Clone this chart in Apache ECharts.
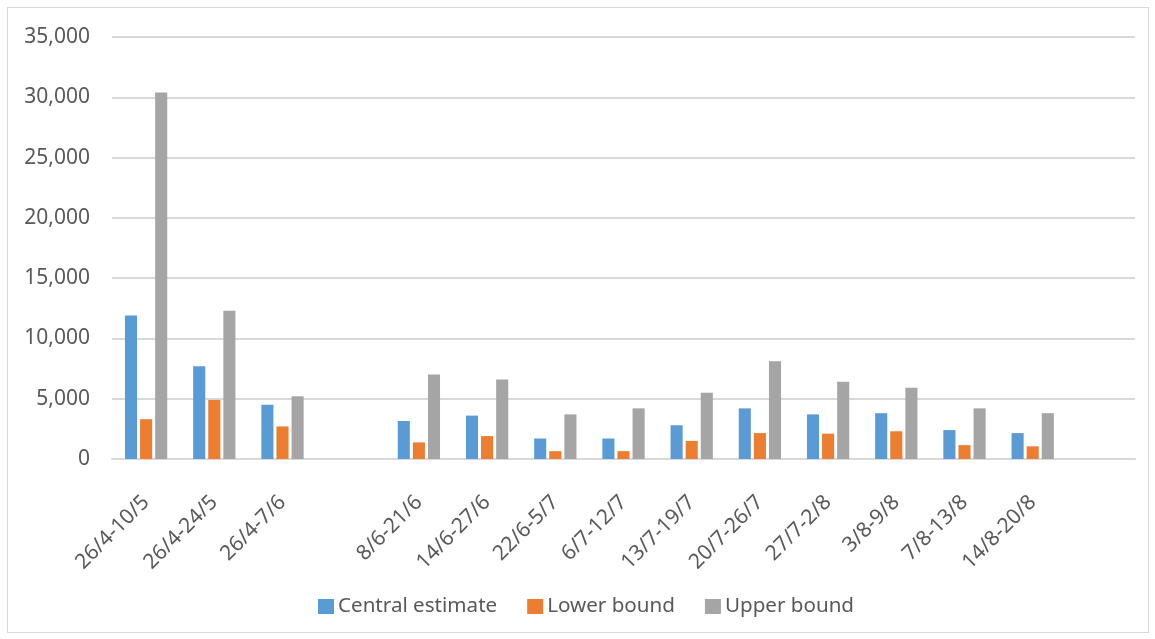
<!DOCTYPE html>
<html lang="en">

<head>
    <meta charset="UTF-8" />
    <title>Estimates by period</title>
    <script src="https://cdn.jsdelivr.net/npm/echarts@6/dist/echarts.min.js"></script>
    <style>
        * {
            margin: 0;
        }

        body {
            background: #fff;
        }

        #chart {
            width: 1155px;
            height: 639px;
        }

        #frame {
            position: absolute;
            left: 7px;
            top: 7px;
            width: 1140px;
            height: 624px;
            border: 1px solid #d9d9d9;
            pointer-events: none;
        }
    </style>
</head>

<body>
    <div id="chart"></div>
    <div id="frame"></div>
    <script>
        // periods (blank slots are gaps in the original chart)
        const periods = [
            "26/4-10/5", "26/4-24/5", "26/4-7/6", "",
            "8/6-21/6", "14/6-27/6", "22/6-5/7", "6/7-12/7", "13/7-19/7",
            "20/7-26/7", "27/7-2/8", "3/8-9/8", "7/8-13/8", "14/8-20/8", ""
        ];
        const centralEstimate = [11900, 7700, 4500, null, 3150, 3600, 1700, 1700, 2800, 4200, 3700, 3800, 2400, 2150, null];
        const lowerBound = [3300, 4900, 2700, null, 1380, 1900, 650, 650, 1500, 2150, 2100, 2300, 1150, 1050, null];
        const upperBound = [30400, 12300, 5200, null, 7000, 6600, 3700, 4200, 5500, 8100, 6400, 5900, 4200, 3800, null];

        const textColor = "#595959";
        const fontFamily = "'Noto Sans', sans-serif";
        const fontSize = 21;

        const myChart = echarts.init(document.getElementById("chart"));

        const barStyle = (color) => ({
            type: "bar",
            barGap: "25%",
            barCategoryGap: "38%",
            itemStyle: { color: color },
        });

        myChart.setOption({
            animation: false,
            grid: { left: 112, right: 20, top: 37, bottom: 180 },
            legend: {
                bottom: 17,
                left: 313,
                itemWidth: 16,
                itemHeight: 15,
                itemGap: 30,
                icon: "rect",
                textStyle: { color: textColor, fontSize: 20.6, fontFamily: fontFamily, padding: [0, 0, 0, -1] },
            },
            xAxis: {
                type: "category",
                data: periods,
                axisTick: { show: false },
                axisLine: { lineStyle: { color: "#d9d9d9", width: 2 } },
                axisLabel: {
                    interval: 0,
                    rotate: 45,
                    margin: 40,
                    color: textColor,
                    fontSize: fontSize,
                    fontFamily: fontFamily,
                },
            },
            yAxis: {
                type: "value",
                min: 0,
                max: 35000,
                interval: 5000,
                axisLine: { show: false },
                axisTick: { show: false },
                splitLine: { lineStyle: { color: "#d9d9d9", width: 2 } },
                axisLabel: {
                    margin: 22,
                    color: textColor,
                    fontSize: fontSize,
                    fontFamily: fontFamily,
                    formatter: (v) => v.toLocaleString("en-US"),
                },
            },
            series: [
                { ...barStyle("#5b9bd5"), name: "Central estimate", data: centralEstimate },
                { ...barStyle("#ed7d31"), name: "Lower bound", data: lowerBound },
                { ...barStyle("#a5a5a5"), name: "Upper bound", data: upperBound },
            ],
        });
    </script>
</body>

</html>
